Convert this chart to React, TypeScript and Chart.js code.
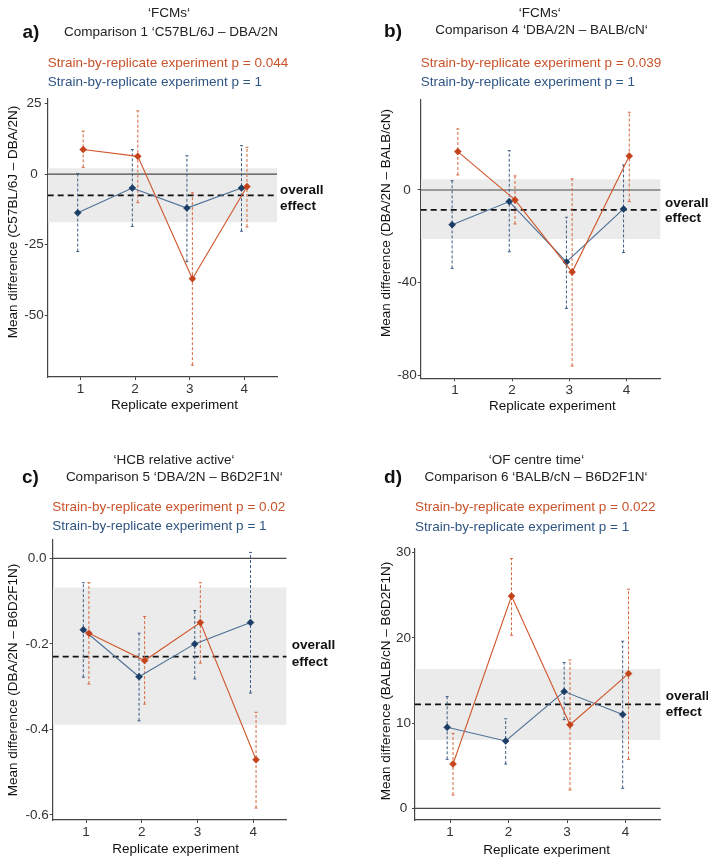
import React, { useEffect, useRef } from "react";
import { Chart, registerables } from "chart.js";
Chart.register(...registerables);

// ---------- data ----------
const replicates = [1, 2, 3, 4];

// Panel a) FCMs, Comparison 1
const aBlueMean = [-13.7, -4.9, -12.0, -4.9];
const aBlueLow = [-27.4, -18.5, -31.0, -20.2];
const aBlueHigh = [0.2, 8.7, 6.5, 10.1];
const aRedMean = [8.7, 6.3, -37.0, -4.4];
const aRedLow = [2.4, -10.1, -67.6, -18.7];
const aRedHigh = [15.2, 22.4, -6.6, 9.5];
const aOverall = -7.5;
const aBand = [-17.0, 2.1];
const aYTicks = [-50, -25, 0, 25];
const aYTickLabels = ["-50", "-25", "0", "25"];

// Panel b) FCMs, Comparison 4
const bBlueMean = [-15.0, -5.0, -31.1, -8.2];
const bBlueLow = [-33.9, -26.7, -51.2, -27.0];
const bBlueHigh = [4.0, 17.0, -11.8, 10.8];
const bRedMean = [16.6, -4.3, -35.5, 14.7];
const bRedLow = [6.5, -14.7, -76.1, -5.0];
const bRedHigh = [26.4, 6.1, 4.8, 33.6];
const bOverall = -8.6;
const bBand = [-21.2, 4.6];
const bYTicks = [-80, -40, 0];
const bYTickLabels = ["-80", "-40", "0"];

// Panel c) HCB relative active, Comparison 5
const cBlueMean = [-0.167, -0.277, -0.2, -0.15];
const cBlueLow = [-0.278, -0.38, -0.282, -0.315];
const cBlueHigh = [-0.057, -0.175, -0.122, 0.014];
const cRedMean = [-0.175, -0.239, -0.15, -0.471];
const cRedLow = [-0.294, -0.341, -0.245, -0.584];
const cRedHigh = [-0.057, -0.136, -0.057, -0.36];
const cOverall = -0.23;
const cBand = [-0.389, -0.068];
const cYTicks = [-0.6, -0.4, -0.2, 0.0];
const cYTickLabels = ["-0.6", "-0.4", "-0.2", "0.0"];

// Panel d) OF centre time, Comparison 6
const dBlueMean = [9.5, 7.9, 13.7, 11.0];
const dBlueLow = [5.75, 5.2, 10.4, 2.35];
const dBlueHigh = [13.1, 10.5, 17.1, 19.6];
const dRedMean = [5.2, 24.9, 9.8, 15.8];
const dRedLow = [1.56, 20.3, 2.15, 5.75];
const dRedHigh = [8.8, 29.3, 17.4, 25.7];
const dOverall = 12.2;
const dBand = [8.0, 16.35];
const dYTicks = [0, 10, 20, 30];
const dYTickLabels = ["0", "10", "20", "30"];

const xTickLabels = ["1", "2", "3", "4"];

// ---------- styles ----------
const FONT = "'Liberation Sans', Arial, Helvetica, sans-serif";
const RED_LINE = "#d0582d";
const RED_PT = "#c4431a";
const RED_ERR = "#d4683f";
const BLUE_LINE = "#4c6f96";
const BLUE_PT = "#1b3d66";
const BLUE_ERR = "#3d5d84";
const RED_TXT = "#c9532b";
const BLUE_TXT = "#2f5583";
const AXIS = "#444444";

type PanelDef = {
  tag: string;
  title1: string;
  title2: string;
  redP: string;
  blueP: string;
  yTitle: string;
  blueMean: number[]; blueLow: number[]; blueHigh: number[];
  redMean: number[]; redLow: number[]; redHigh: number[];
  overall: number; band: number[];
  yTicks: number[]; yTickLabels: string[];
  yMin: number; yMax: number;
  box: number[]; // canvas left, top
  plot: number[]; // left, top, right, bottom
  pos: any;
};

const panels: PanelDef[] = [
  {
    tag: "a)", title1: "‘FCMs‘", title2: "Comparison 1 ‘C57BL/6J – DBA/2N",
    redP: "Strain-by-replicate experiment p = 0.044", blueP: "Strain-by-replicate experiment p = 1",
    yTitle: "Mean difference (C57BL/6J – DBA/2N)",
    blueMean: aBlueMean, blueLow: aBlueLow, blueHigh: aBlueHigh,
    redMean: aRedMean, redLow: aRedLow, redHigh: aRedHigh,
    overall: aOverall, band: aBand, yTicks: aYTicks, yTickLabels: aYTickLabels,
    yMin: -71.8, yMax: 26.6,
    box: [0, 0], plot: [47.7, 99, 277, 377],
    pos: { t1: [169, 13.3], t2: [171, 32], tag: [31, 31], p: [47.7, 63.3, 82.3], ov: [280, 190, 206], yt: [13.3, 222], xt: [174.5, 405] },
  },
  {
    tag: "b)", title1: "‘FCMs‘", title2: "Comparison 4 ‘DBA/2N – BALB/cN‘",
    redP: "Strain-by-replicate experiment p = 0.039", blueP: "Strain-by-replicate experiment p = 1",
    yTitle: "Mean difference (DBA/2N – BALB/cN)",
    blueMean: bBlueMean, blueLow: bBlueLow, blueHigh: bBlueHigh,
    redMean: bRedMean, redLow: bRedLow, redHigh: bRedHigh,
    overall: bOverall, band: bBand, yTicks: bYTicks, yTickLabels: bYTickLabels,
    yMin: -81.4, yMax: 38.9,
    box: [354, 0], plot: [420.7, 100, 660.7, 378.3],
    pos: { t1: [539.8, 12.8], t2: [541.5, 29.5], tag: [393, 30], p: [420.7, 63.3, 81.7], ov: [665, 202.7, 218.3], yt: [385.7, 223], xt: [552.3, 406] },
  },
  {
    tag: "c)", title1: "‘HCB relative active‘", title2: "Comparison 5 ‘DBA/2N – B6D2F1N‘",
    redP: "Strain-by-replicate experiment p = 0.02", blueP: "Strain-by-replicate experiment p = 1",
    yTitle: "Mean difference (DBA/2N – B6D2F1N)",
    blueMean: cBlueMean, blueLow: cBlueLow, blueHigh: cBlueHigh,
    redMean: cRedMean, redLow: cRedLow, redHigh: cRedHigh,
    overall: cOverall, band: cBand, yTicks: cYTicks, yTickLabels: cYTickLabels,
    yMin: -0.612, yMax: 0.043,
    box: [0, 432], plot: [52.7, 540, 286.7, 820],
    pos: { t1: [174, 460], t2: [174.3, 476.7], tag: [30.5, 476], p: [52.3, 506.7, 526], ov: [291.7, 645, 661.7], yt: [13.3, 680], xt: [175.7, 849.3] },
  },
  {
    tag: "d)", title1: "‘OF centre time‘", title2: "Comparison 6 ‘BALB/cN – B6D2F1N‘",
    redP: "Strain-by-replicate experiment p = 0.022", blueP: "Strain-by-replicate experiment p = 1",
    yTitle: "Mean difference (BALB/cN – B6D2F1N)",
    blueMean: dBlueMean, blueLow: dBlueLow, blueHigh: dBlueHigh,
    redMean: dRedMean, redLow: dRedLow, redHigh: dRedHigh,
    overall: dOverall, band: dBand, yTicks: dYTicks, yTickLabels: dYTickLabels,
    yMin: -1.37, yMax: 30.5,
    box: [354, 432], plot: [415, 548.3, 660.7, 820],
    pos: { t1: [536.5, 460], t2: [536, 476.7], tag: [393, 476], p: [415, 507.3, 526.7], ov: [665.7, 695.7, 711.7], yt: [385.7, 681], xt: [546.7, 850] },
  },
];

const X_MIN = 0.4;
const X_MAX = 4.6;
const BLUE_DODGE = -0.05;
const RED_DODGE = 0.05;
const CW = 354;
const CH = 432;

function PanelChart({ p }: { p: PanelDef }) {
  const ref = useRef<HTMLCanvasElement | null>(null);
  useEffect(() => {
    if (!ref.current) return;
    const [bx, by] = p.box;
    const [pl, pt, pr, pb] = p.plot;
    const datasets: any[] = [];
    // grey band
    datasets.push({
      data: [{ x: X_MIN, y: p.band[0] }, { x: X_MAX, y: p.band[0] }],
      borderWidth: 0, pointRadius: 0, borderColor: "rgba(0,0,0,0)",
      backgroundColor: "#ebebeb", fill: { value: p.band[1] }, order: 20,
    });
    // zero line
    datasets.push({
      data: [{ x: X_MIN, y: 0 }, { x: X_MAX, y: 0 }],
      borderWidth: 1.2, pointRadius: 0, borderColor: "#4a4a4a", fill: false, order: 19,
    });
    // overall effect
    datasets.push({
      data: [{ x: X_MIN, y: p.overall }, { x: X_MAX, y: p.overall }],
      borderWidth: 1.8, pointRadius: 0, borderColor: "#111111", borderDash: [6, 4], fill: false, order: 18,
    });
    // error bars
    const addErr = (lo: number[], hi: number[], dodge: number, color: string) => {
      replicates.forEach((r, i) => {
        datasets.push({
          data: [{ x: r + dodge, y: lo[i] }, { x: r + dodge, y: hi[i] }],
          borderWidth: 1, borderColor: color, borderDash: [3, 2],
          pointStyle: "line", pointRadius: 1.5, pointBorderColor: color, pointBorderWidth: 1,
          fill: false, order: 10,
        });
      });
    };
    addErr(p.blueLow, p.blueHigh, BLUE_DODGE, BLUE_ERR);
    addErr(p.redLow, p.redHigh, RED_DODGE, RED_ERR);
    // series
    datasets.push({
      data: replicates.map((r, i) => ({ x: r + BLUE_DODGE, y: p.blueMean[i] })),
      borderColor: BLUE_LINE, borderWidth: 1.1, pointStyle: "rectRot", pointRadius: 3.5,
      pointBackgroundColor: BLUE_PT, pointBorderColor: BLUE_PT, pointBorderWidth: 0.5, fill: false, order: 2,
    });
    datasets.push({
      data: replicates.map((r, i) => ({ x: r + RED_DODGE, y: p.redMean[i] })),
      borderColor: RED_LINE, borderWidth: 1.1, pointStyle: "rectRot", pointRadius: 3.5,
      pointBackgroundColor: RED_PT, pointBorderColor: RED_PT, pointBorderWidth: 0.5, fill: false, order: 1,
    });

    const tickFont = { family: FONT, size: 13.5 };
    const chart = new Chart(ref.current, {
      type: "line",
      data: { datasets },
      options: {
        animation: false,
        responsive: false,
        events: [],
        layout: { padding: { left: 0, top: pt - by, right: bx + CW - pr, bottom: 0 } },
        plugins: { legend: { display: false }, tooltip: { enabled: false }, title: { display: false } },
        elements: { line: { tension: 0 } },
        scales: {
          x: {
            type: "linear", min: X_MIN, max: X_MAX,
            afterFit: (s: any) => { s.height = by + CH - pb; },
            afterBuildTicks: (s: any) => { s.ticks = replicates.map((v) => ({ value: v })); },
            ticks: { autoSkip: false, maxRotation: 0, padding: 1, color: "#333", font: tickFont,
              callback: (_v: any, i: number) => xTickLabels[i] },
            grid: { display: true, drawOnChartArea: false, drawTicks: true, tickLength: 3, color: AXIS },
            border: { display: true, color: AXIS, width: 1.2 },
          },
          y: {
            type: "linear", min: p.yMin, max: p.yMax,
            afterFit: (s: any) => { s.width = pl - bx; },
            afterBuildTicks: (s: any) => { s.ticks = p.yTicks.map((v) => ({ value: v })); },
            ticks: { autoSkip: false, padding: 1, crossAlign: "center", color: "#333", font: tickFont,
              callback: (_v: any, i: number) => p.yTickLabels[i] },
            grid: { display: true, drawOnChartArea: false, drawTicks: true, tickLength: 3, color: AXIS },
            border: { display: true, color: AXIS, width: 1.2 },
          },
        },
      } as any,
    });
    return () => chart.destroy();
  }, []);
  return (
    <canvas
      ref={ref}
      width={CW}
      height={CH}
      style={{ position: "absolute", left: p.box[0], top: p.box[1], width: CW, height: CH }}
    />
  );
}

const centered = (x: number, y: number, extra: any = {}) => ({
  position: "absolute" as const, left: x, top: y, transform: "translate(-50%, -50%)",
  whiteSpace: "nowrap" as const, lineHeight: 1, fontFamily: FONT, ...extra,
});
const leftMid = (x: number, y: number, extra: any = {}) => ({
  position: "absolute" as const, left: x, top: y, transform: "translateY(-50%)",
  whiteSpace: "nowrap" as const, lineHeight: 1, fontFamily: FONT, ...extra,
});

function PanelText({ p }: { p: PanelDef }) {
  const o = p.pos;
  return (
    <>
      <div style={centered(o.t1[0], o.t1[1], { fontSize: 13.5, color: "#222" })}>{p.title1}</div>
      <div style={centered(o.t2[0], o.t2[1], { fontSize: 13.5, color: "#222" })}>{p.title2}</div>
      <div style={centered(o.tag[0], o.tag[1], { fontSize: 19, fontWeight: "bold", color: "#111" })}>{p.tag}</div>
      <div style={leftMid(o.p[0], o.p[1], { fontSize: 13.5, color: RED_TXT })}>{p.redP}</div>
      <div style={leftMid(o.p[0], o.p[2], { fontSize: 13.5, color: BLUE_TXT })}>{p.blueP}</div>
      <div style={leftMid(o.ov[0], o.ov[1], { fontSize: 13.5, fontWeight: "bold", color: "#111" })}>overall</div>
      <div style={leftMid(o.ov[0], o.ov[2], { fontSize: 13.5, fontWeight: "bold", color: "#111" })}>effect</div>
      <div style={centered(o.yt[0], o.yt[1], { fontSize: 13.5, color: "#111", transform: "translate(-50%, -50%) rotate(-90deg)" })}>{p.yTitle}</div>
      <div style={centered(o.xt[0], o.xt[1], { fontSize: 13.5, color: "#111" })}>Replicate experiment</div>
    </>
  );
}

export default function App() {
  return (
    <div style={{ position: "absolute", left: 0, top: 0, width: 708, height: 864, background: "#fff", overflow: "hidden" }}>
      {panels.map((p, i) => (
        <PanelChart key={"c" + i} p={p} />
      ))}
      {panels.map((p, i) => (
        <PanelText key={"t" + i} p={p} />
      ))}
    </div>
  );
}
